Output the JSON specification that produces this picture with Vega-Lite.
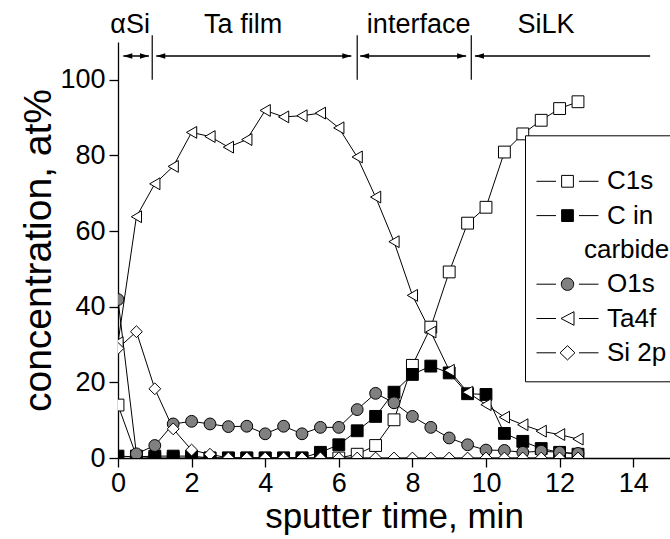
{
"$schema":"https://vega.github.io/schema/vega-lite/v6.json",
"width":552,"height":416,"autosize":"none",
"padding":{"left":118,"top":42,"right":0,"bottom":81},
"background":"white",
"config":{"view":{"stroke":null},"font":"Liberation Sans",
 "axis":{"domainColor":"black","domainWidth":1.3,"tickColor":"black","tickWidth":1.3,"labelColor":"black","titleColor":"black","labelFont":"Liberation Sans","titleFont":"Liberation Sans","labelFontSize":27,"titleFontSize":35,"titleFontWeight":"normal","grid":false},
 "legend":{"labelFont":"Liberation Sans","titleFont":"Liberation Sans"}},
"datasets":{
 "conc":[
{"t":0,"v":14,"s":"C1s"},{"t":0.5,"v":0.5,"s":"C1s"},{"t":1,"v":0,"s":"C1s"},{"t":1.5,"v":0,"s":"C1s"},{"t":2,"v":0,"s":"C1s"},{"t":2.5,"v":0,"s":"C1s"},{"t":3,"v":0,"s":"C1s"},{"t":3.5,"v":0,"s":"C1s"},{"t":4,"v":0,"s":"C1s"},{"t":4.5,"v":0,"s":"C1s"},{"t":5,"v":0,"s":"C1s"},{"t":5.5,"v":0,"s":"C1s"},{"t":6,"v":0,"s":"C1s"},{"t":6.5,"v":1,"s":"C1s"},{"t":7,"v":3.3,"s":"C1s"},{"t":7.5,"v":10.1,"s":"C1s"},{"t":8,"v":24.5,"s":"C1s"},{"t":8.5,"v":34.6,"s":"C1s"},{"t":9,"v":49.2,"s":"C1s"},{"t":9.5,"v":62.1,"s":"C1s"},{"t":10,"v":66.3,"s":"C1s"},{"t":10.5,"v":80.9,"s":"C1s"},{"t":11,"v":85.7,"s":"C1s"},{"t":11.5,"v":89.3,"s":"C1s"},{"t":12,"v":92.4,"s":"C1s"},{"t":12.5,"v":94.2,"s":"C1s"},
{"t":0,"v":0.5,"s":"C in carbide"},{"t":0.5,"v":0.3,"s":"C in carbide"},{"t":1,"v":0.5,"s":"C in carbide"},{"t":1.5,"v":0.5,"s":"C in carbide"},{"t":2,"v":0.5,"s":"C in carbide"},{"t":2.5,"v":0,"s":"C in carbide"},{"t":3,"v":0,"s":"C in carbide"},{"t":3.5,"v":0,"s":"C in carbide"},{"t":4,"v":0,"s":"C in carbide"},{"t":4.5,"v":0,"s":"C in carbide"},{"t":5,"v":0,"s":"C in carbide"},{"t":5.5,"v":1.5,"s":"C in carbide"},{"t":6,"v":3.5,"s":"C in carbide"},{"t":6.5,"v":7.2,"s":"C in carbide"},{"t":7,"v":11,"s":"C in carbide"},{"t":7.5,"v":17.4,"s":"C in carbide"},{"t":8,"v":22.1,"s":"C in carbide"},{"t":8.5,"v":24.3,"s":"C in carbide"},{"t":9,"v":22.5,"s":"C in carbide"},{"t":9.5,"v":17,"s":"C in carbide"},{"t":10,"v":16.8,"s":"C in carbide"},{"t":10.5,"v":6.5,"s":"C in carbide"},{"t":11,"v":4.4,"s":"C in carbide"},{"t":11.5,"v":2.5,"s":"C in carbide"},{"t":12,"v":1.5,"s":"C in carbide"},{"t":12.5,"v":1,"s":"C in carbide"},
{"t":0,"v":41.9,"s":"O1s"},{"t":0.5,"v":1.1,"s":"O1s"},{"t":1,"v":3.3,"s":"O1s"},{"t":1.5,"v":9,"s":"O1s"},{"t":2,"v":9.7,"s":"O1s"},{"t":2.5,"v":9,"s":"O1s"},{"t":3,"v":8.3,"s":"O1s"},{"t":3.5,"v":8.4,"s":"O1s"},{"t":4,"v":6.4,"s":"O1s"},{"t":4.5,"v":8.4,"s":"O1s"},{"t":5,"v":6.4,"s":"O1s"},{"t":5.5,"v":8.1,"s":"O1s"},{"t":6,"v":8.1,"s":"O1s"},{"t":6.5,"v":12.8,"s":"O1s"},{"t":7,"v":17.1,"s":"O1s"},{"t":7.5,"v":14.6,"s":"O1s"},{"t":8,"v":11,"s":"O1s"},{"t":8.5,"v":8.1,"s":"O1s"},{"t":9,"v":5.3,"s":"O1s"},{"t":9.5,"v":3.5,"s":"O1s"},{"t":10,"v":2.1,"s":"O1s"},{"t":10.5,"v":2,"s":"O1s"},{"t":11,"v":1.5,"s":"O1s"},{"t":11.5,"v":1.8,"s":"O1s"},{"t":12,"v":1.5,"s":"O1s"},{"t":12.5,"v":1.2,"s":"O1s"},
{"t":0,"v":30.5,"s":"Ta4f"},{"t":0.5,"v":63.8,"s":"Ta4f"},{"t":1,"v":72.5,"s":"Ta4f"},{"t":1.5,"v":77.1,"s":"Ta4f"},{"t":2,"v":86.1,"s":"Ta4f"},{"t":2.5,"v":85,"s":"Ta4f"},{"t":3,"v":82.2,"s":"Ta4f"},{"t":3.5,"v":84.2,"s":"Ta4f"},{"t":4,"v":91.9,"s":"Ta4f"},{"t":4.5,"v":90.2,"s":"Ta4f"},{"t":5,"v":90.5,"s":"Ta4f"},{"t":5.5,"v":91.2,"s":"Ta4f"},{"t":6,"v":87.3,"s":"Ta4f"},{"t":6.5,"v":79.6,"s":"Ta4f"},{"t":7,"v":69,"s":"Ta4f"},{"t":7.5,"v":57.2,"s":"Ta4f"},{"t":8,"v":43,"s":"Ta4f"},{"t":8.5,"v":33.3,"s":"Ta4f"},{"t":9,"v":23.2,"s":"Ta4f"},{"t":9.5,"v":17.4,"s":"Ta4f"},{"t":10,"v":14.1,"s":"Ta4f"},{"t":10.5,"v":10.8,"s":"Ta4f"},{"t":11,"v":8.8,"s":"Ta4f"},{"t":11.5,"v":7.1,"s":"Ta4f"},{"t":12,"v":6.2,"s":"Ta4f"},{"t":12.5,"v":5,"s":"Ta4f"},
{"t":0,"v":29,"s":"Si 2p"},{"t":0.5,"v":33.4,"s":"Si 2p"},{"t":1,"v":18.3,"s":"Si 2p"},{"t":1.5,"v":7.7,"s":"Si 2p"},{"t":2,"v":2.1,"s":"Si 2p"},{"t":2.5,"v":1,"s":"Si 2p"},{"t":3,"v":0,"s":"Si 2p"},{"t":3.5,"v":0,"s":"Si 2p"},{"t":4,"v":0,"s":"Si 2p"},{"t":4.5,"v":0,"s":"Si 2p"},{"t":5,"v":0,"s":"Si 2p"},{"t":5.5,"v":0,"s":"Si 2p"},{"t":6,"v":0,"s":"Si 2p"},{"t":6.5,"v":0,"s":"Si 2p"},{"t":7,"v":0,"s":"Si 2p"},{"t":7.5,"v":0,"s":"Si 2p"},{"t":8,"v":0,"s":"Si 2p"},{"t":8.5,"v":0,"s":"Si 2p"},{"t":9,"v":0,"s":"Si 2p"},{"t":9.5,"v":0,"s":"Si 2p"},{"t":10,"v":0,"s":"Si 2p"},{"t":10.5,"v":0,"s":"Si 2p"},{"t":11,"v":0,"s":"Si 2p"},{"t":11.5,"v":0,"s":"Si 2p"},{"t":12,"v":0,"s":"Si 2p"},{"t":12.5,"v":0,"s":"Si 2p"}
 ],
 "bounds":[{"b":0.93},{"b":6.5},{"b":9.6}],
 "segs":[{"a":0.145,"z":0.84,"l":1,"r":1},{"a":1.04,"z":6.34,"l":1,"r":1},{"a":6.58,"z":9.46,"l":1,"r":1},{"a":9.7,"z":14.46,"l":1,"r":0}],
 "notes":[{"t":0.33,"label":"αSi"},{"t":3.4,"label":"Ta film"},{"t":8.17,"label":"interface"},{"t":11.63,"label":"SiLK"}]
},
"layer":[
 {"data":{"name":"conc"},
  "mark":{"type":"line","color":"black","strokeWidth":1,"clip":true},
  "encoding":{
   "x":{"field":"t","type":"quantitative","scale":{"domain":[0,15],"nice":false},
        "axis":{"values":[0,1,2,3,4,5,6,7,8,9,10,11,12,13,14,15],"labelExpr":"datum.value % 2 === 0 && datum.value < 15 ? datum.label : ''","tickSize":{"condition":{"test":"datum.value % 2 === 0","value":9},"value":5},"labelPadding":3,"labelOverlap":false,"labelFlush":false,"labelBound":false,"title":"sputter time, min","titleFontSize":35,"titlePadding":3}},
   "y":{"field":"v","type":"quantitative","scale":{"domain":[0,110],"nice":false},
        "axis":{"values":[0,10,20,30,40,50,60,70,80,90,100,110],"labelExpr":"datum.value % 20 === 0 && datum.value <= 100 ? datum.label : ''","tickSize":{"condition":{"test":"datum.value % 20 === 0","value":9},"value":5},"labelPadding":4,"labelOverlap":false,"labelFlush":false,"labelBound":false,"title":"concentration, at%","titleFontSize":39,"titlePadding":1}},
   "detail":{"field":"s","type":"nominal"}}},
 {"data":{"name":"conc"},
  "mark":{"type":"point","filled":true,"stroke":"black","strokeWidth":1,"opacity":1,"clip":true},
  "encoding":{
   "x":{"field":"t","type":"quantitative"},
   "y":{"field":"v","type":"quantitative"},
   "shape":{"field":"s","type":"nominal","scale":{"domain":["C1s","C in carbide","O1s","Ta4f","Si 2p"],"range":["square","square","circle","triangle-left","diamond"]},"legend":null},
   "fill":{"field":"s","type":"nominal","scale":{"domain":["C1s","C in carbide","O1s","Ta4f","Si 2p"],"range":["white","black","#808080","white","white"]},"legend":null},
   "size":{"field":"s","type":"nominal","scale":{"domain":["C1s","C in carbide","O1s","Ta4f","Si 2p"],"range":[140,140,165,210,220]},"legend":null}}},
 {"data":{"name":"bounds"},
  "mark":{"type":"rule","color":"black","strokeWidth":1.2},
  "encoding":{"x":{"field":"b","type":"quantitative"},"y":{"datum":100,"type":"quantitative"},"y2":{"datum":111.8}}},
 {"data":{"name":"segs"},
  "mark":{"type":"rule","color":"black","strokeWidth":1.5},
  "encoding":{"x":{"field":"a","type":"quantitative"},"x2":{"field":"z"},"y":{"datum":106.3,"type":"quantitative"}}},
 {"data":{"name":"segs"},
  "transform":[{"filter":"datum.l == 1"}],
  "mark":{"type":"point","filled":true,"color":"black","opacity":1,"size":81,"shape":"M-1,0L1,-0.6L1,0.6Z","xOffset":4.5},
  "encoding":{"x":{"field":"a","type":"quantitative"},"y":{"datum":106.3,"type":"quantitative"}}},
 {"data":{"name":"segs"},
  "transform":[{"filter":"datum.r == 1"}],
  "mark":{"type":"point","filled":true,"color":"black","opacity":1,"size":81,"shape":"M1,0L-1,-0.6L-1,0.6Z","xOffset":-4.5},
  "encoding":{"x":{"field":"z","type":"quantitative"},"y":{"datum":106.3,"type":"quantitative"}}},
 {"data":{"name":"notes"},
  "mark":{"type":"text","font":"Liberation Sans","fontSize":27,"color":"black","align":"center","baseline":"alphabetic"},
  "encoding":{"x":{"field":"t","type":"quantitative"},"y":{"datum":112.5,"type":"quantitative"},"text":{"field":"label"}}},
 {"data":{"name":"conc"},
  "mark":{"type":"point","filled":true,"opacity":0,"size":3844,"clip":true},
  "encoding":{
   "x":{"field":"t","type":"quantitative"},
   "y":{"field":"v","type":"quantitative"},
   "shape":{"field":"s","type":"nominal","scale":{"domain":["C1s","C in carbide","carbide","O1s","Ta4f","Si 2p"],"range":[
      "M-1,0H-0.37M0.37,0H1M-0.19,-0.19H0.19V0.19H-0.19Z",
      "M-1,0H-0.37M0.37,0H1M-0.19,-0.19H0.19V0.19H-0.19Z",
      "M0,0",
      "M-1,0H-0.37M0.37,0H1M-0.2,0A0.2,0.2,0,1,0,0.2,0A0.2,0.2,0,1,0,-0.2,0Z",
      "M-1,0H-0.37M0.37,0H1M-0.21,0L0.21,-0.22L0.21,0.22Z",
      "M-1,0H-0.37M0.37,0H1M-0.24,0L0,-0.23L0.24,0L0,0.23Z"]},
     "legend":{"title":"\u00a0\u00a0\u00a0\u00a0\u00a0\u00a0\u00a0\u00a0\u00a0\u00a0\u00a0\u00a0\u00a0\u00a0\u00a0\u00a0\u00a0\u00a0\u00a0\u00a0\u00a0\u00a0\u00a0\u00a0\u00a0\u00a0\u00a0\u00a0\u00a0\u00a0\u00a0\u00a0\u00a0\u00a0\u00a0\u00a0\u00a0\u00a0\u00a0\u00a0\u00a0\u00a0\u00a0\u00a0","titleColor":"white","titleFontSize":14,"titlePadding":4,"titleLimit":0,"orient":"none","legendX":407,"legendY":93.3,"strokeColor":"black","fillColor":"white","padding":11,"symbolSize":3844,"symbolStrokeColor":"black","symbolStrokeWidth":1,"symbolOpacity":1,"clipHeight":34,"rowPadding":0.3,"labelFontSize":26,"labelOffset":8,"labelColor":"black","labelLimit":0,"labelExpr":"datum.label === 'C in carbide' ? 'C in' : datum.label",
       "encode":{"symbols":{"update":{"stroke":{"value":"black"},"strokeWidth":{"value":1},"opacity":{"value":1}}},"labels":{"update":{"dx":{"signal":"datum.index === 2 ? -23 : 0"}}}}}},
   "fill":{"field":"s","type":"nominal","scale":{"domain":["C1s","C in carbide","carbide","O1s","Ta4f","Si 2p"],"range":["white","black","white","#808080","white","white"]},
     "legend":{"title":"\u00a0\u00a0\u00a0\u00a0\u00a0\u00a0\u00a0\u00a0\u00a0\u00a0\u00a0\u00a0\u00a0\u00a0\u00a0\u00a0\u00a0\u00a0\u00a0\u00a0\u00a0\u00a0\u00a0\u00a0\u00a0\u00a0\u00a0\u00a0\u00a0\u00a0\u00a0\u00a0\u00a0\u00a0\u00a0\u00a0\u00a0\u00a0\u00a0\u00a0\u00a0\u00a0\u00a0\u00a0","titleColor":"white","titleFontSize":14,"titlePadding":4,"titleLimit":0,"orient":"none","legendX":407,"legendY":93.3,"strokeColor":"black","fillColor":"white","padding":11,"symbolSize":3844,"symbolStrokeColor":"black","symbolStrokeWidth":1,"symbolOpacity":1,"clipHeight":34,"rowPadding":0.3,"labelFontSize":26,"labelOffset":8,"labelColor":"black","labelLimit":0,"labelExpr":"datum.label === 'C in carbide' ? 'C in' : datum.label",
       "encode":{"symbols":{"update":{"stroke":{"value":"black"},"strokeWidth":{"value":1},"opacity":{"value":1}}},"labels":{"update":{"dx":{"signal":"datum.index === 2 ? -23 : 0"}}}}}}}}
],
"resolve":{"scale":{"shape":"independent","fill":"independent","size":"independent"}}
}
